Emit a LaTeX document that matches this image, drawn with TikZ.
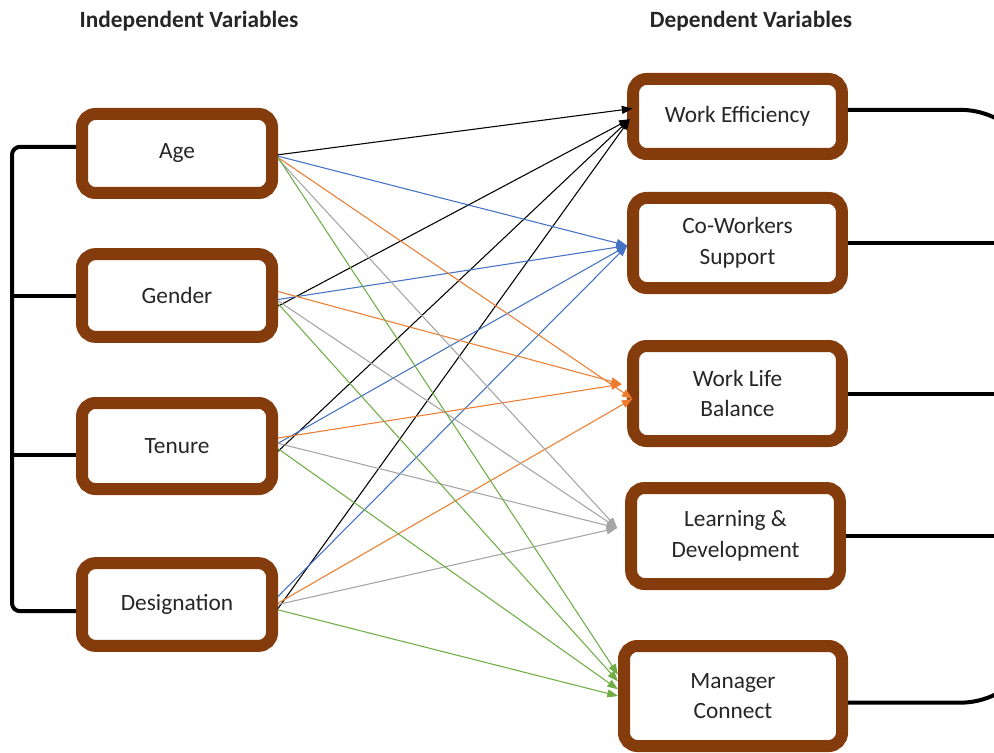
\documentclass[tikz,border=0pt]{standalone}
\usepackage{fontspec}
\setmainfont{Carlito}
\usetikzlibrary{arrows.meta}

\definecolor{boxbrown}{HTML}{843C0C}
\definecolor{lnblue}{HTML}{4472C4}
\definecolor{lnorange}{HTML}{ED7D31}
\definecolor{lngray}{HTML}{A5A5A5}
\definecolor{lngreen}{HTML}{70AD47}
\definecolor{txt}{HTML}{262626}

\tikzset{
  var/.style={draw=boxbrown, line width=9pt, rounded corners=10pt, fill=white,
    align=center, inner sep=0pt, text=txt, font=\fontsize{17.5}{23}\selectfont},
  indep/.style={var, minimum width=142.5pt, minimum height=62pt},
  dep/.style={var, minimum width=156.5pt},
  head/.style={font=\bfseries\fontsize{17.5}{21}\selectfont, text=txt},
  link/.style={draw=#1, line width=0.8pt, -{Triangle[length=8pt,width=6pt]}},
  bracket/.style={line width=3pt, rounded corners=#1},
  bracket/.default=6pt
}

\begin{document}
\begin{tikzpicture}[x=0.75pt,y=-0.75pt]
\clip (0,0) rectangle (994,752);

% headings
\node [head] (hind) at (189,21) {Independent Variables};
\node [head] (hdep) at (751,21) {Dependent Variables};

% independent variables
\node [indep, minimum height=59.25pt] (age) at (177,153.5) {Age};
\node [indep] (gender) at (177,295.5) {Gender};
\node [indep, minimum height=64.5pt] (tenure) at (177,446) {Tenure};
\node [indep] (desig) at (177,604.5) {Designation};

% dependent variables
\node [dep, minimum height=56.25pt] (we) at (737.5,116.5) {Work Efficiency};
\node [dep, minimum height=67.5pt] (cw) at (737.5,243) {Co-Workers\\Support};
\node [dep, minimum height=71.25pt] (wl) at (737.5,393.5) {Work Life\\Balance};
\node [dep, minimum height=72pt] (ld) at (735.5,536) {Learning \&\\Development};
\node [dep, minimum width=163.5pt, minimum height=75pt] (mc) at (733,696) {Manager\\Connect};

% bracket on the left
\draw [bracket] ([yshift=5pt]age.west) -| (12,380) |- ([yshift=-5pt]desig.west);
\draw [bracket] (gender.west) -- ++(-64,0);
\draw [bracket] ([yshift=-6.75pt]tenure.west) -- ++(-64,0);

% bracket on the right
\draw [bracket=60pt] ([yshift=5pt]we.east) -| (1040,400) |- ([yshift=-5pt]mc.east);
\draw [bracket] (cw.east) -- ++(160,0);
\draw [bracket] (wl.east) -- ++(160,0);
\draw [bracket] (ld.east) -- ++(160,0);

% to work efficiency
\draw [link=black] ([yshift=-1pt]age.east) -- ([yshift=6pt,xshift=4pt]we.west);
\draw [link=black] ([yshift=-8pt]gender.east) -- ([yshift=-2pt,xshift=2pt]we.west);
\draw [link=black] ([yshift=-4pt]tenure.east) -- ([yshift=-2pt,xshift=2pt]we.west);
\draw [link=black] ([yshift=-3pt]desig.east) -- ([yshift=-2pt,xshift=2pt]we.west);

% to co-workers support
\draw [link=lnblue] ([yshift=-2pt]age.east) -- ([yshift=-2pt]cw.west);
\draw [link=lnblue] ([yshift=-3pt]gender.east) -- ([yshift=-2pt]cw.west);
\draw [link=lnblue] ([yshift=2pt]tenure.east) -- ([yshift=-2pt]cw.west);
\draw [link=lnblue] ([yshift=6pt]desig.east) -- ([yshift=-2pt]cw.west);

% to work life balance
\draw [link=lnorange] ([yshift=-3pt]age.east) -- ([yshift=-4pt,xshift=4pt]wl.west);
\draw [link=lnorange] ([yshift=3pt]gender.east) -- ([yshift=7pt,xshift=-4pt]wl.west);
\draw [link=lnorange] ([yshift=6pt]tenure.east) -- ([yshift=7pt,xshift=-4pt]wl.west);
\draw [link=lnorange] ([yshift=1pt]desig.east) -- ([yshift=-4pt,xshift=4pt]wl.west);

% to learning and development
\draw [link=lngray] ([yshift=-4pt]age.east) -- ([yshift=6pt,xshift=-6pt]ld.west);
\draw [link=lngray] ([yshift=-4pt]gender.east) -- ([yshift=6pt,xshift=-6pt]ld.west);
\draw [link=lngray] ([yshift=2pt]tenure.east) -- ([yshift=6pt,xshift=-6pt]ld.west);
\draw [link=lngray] (desig.east) -- ([yshift=6pt,xshift=-6pt]ld.west);

% to manager connect
\draw [link=lngreen] ([yshift=-3pt]age.east) -- ([yshift=16pt]mc.west);
\draw [link=lngreen] ([yshift=-6pt]gender.east) -- ([yshift=11pt]mc.west);
\draw [link=lngreen] ([yshift=-2pt]tenure.east) -- ([yshift=5pt]mc.west);
\draw [link=lngreen] ([yshift=-4pt]desig.east) -- ([yshift=0pt]mc.west);
\end{tikzpicture}
\end{document}
